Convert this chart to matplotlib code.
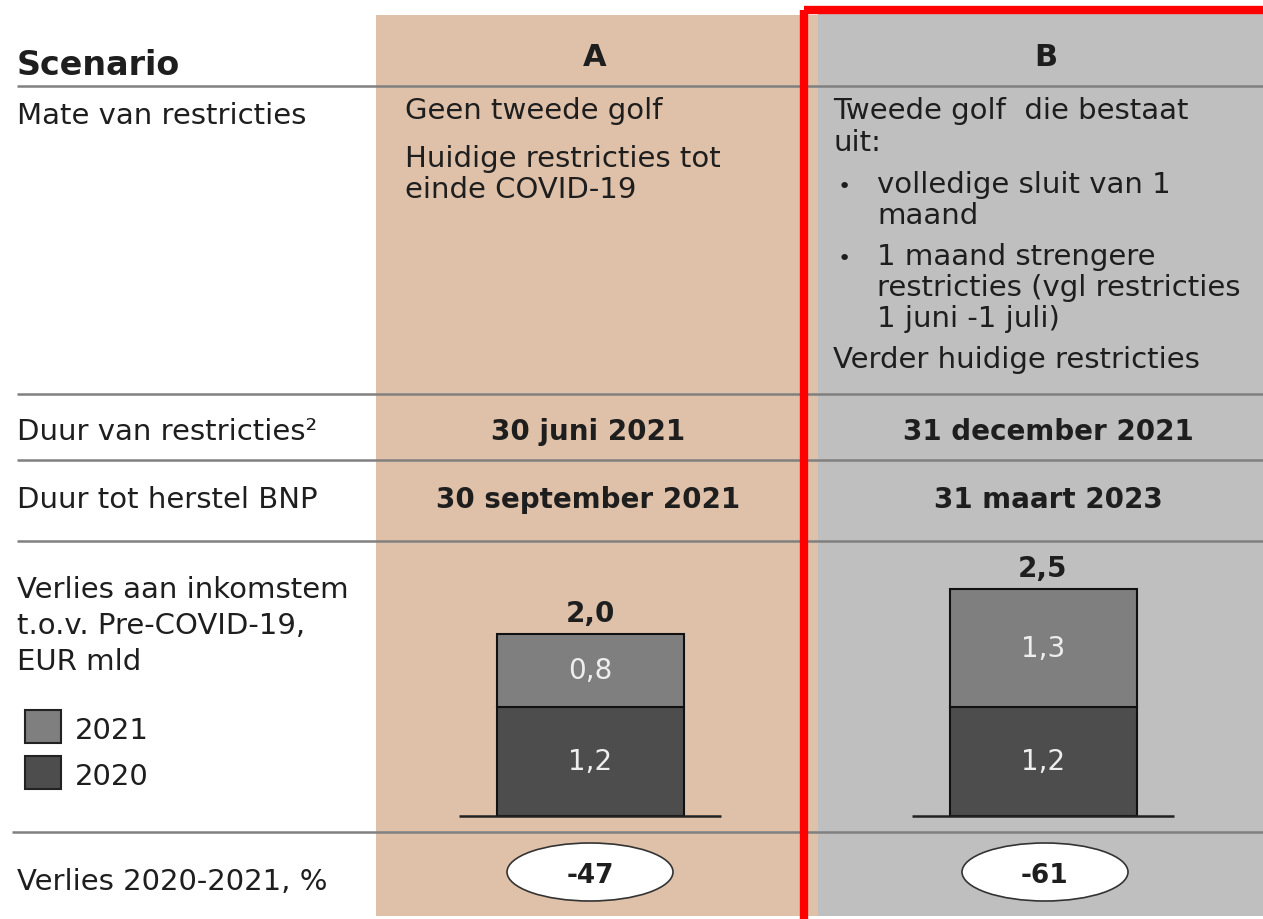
import matplotlib.pyplot as plt
from matplotlib.patches import Rectangle, Ellipse

# ---------------------------------------------------------------------------
# Data
# ---------------------------------------------------------------------------
scenarios = ["A", "B"]
loss_2020 = [1.2, 1.2]
loss_2021 = [0.8, 1.3]
loss_total = ["2,0", "2,5"]
loss_pct = ["-47", "-61"]
duur_restricties = ["30 juni 2021", "31 december 2021"]
duur_herstel = ["30 september 2021", "31 maart 2023"]
series_labels = ["2021", "2020"]

row_labels = ["Mate van restricties", "Duur van restricties\u00b2", "Duur tot herstel BNP",
              ["Verlies aan inkomstem", "t.o.v. Pre-COVID-19,", "EUR mld"],
              "Verlies 2020-2021, %"]

# ---------------------------------------------------------------------------
# Style
# ---------------------------------------------------------------------------
TAN = "#DFC1A9"
GREY_BG = "#BFBFBF"
C2021 = "#7F7F7F"
C2020 = "#4D4D4D"
LINE = "#808080"
TXT = "#1E1E1E"

plt.rcParams["font.family"] = ["DejaVu Sans"]

fig = plt.figure(figsize=(12.63, 9.20), dpi=100)
ax = fig.add_axes([0, 0, 1, 1])
ax.set_xlim(0, 1263)
ax.set_ylim(920, 0)
ax.axis("off")


def line(x, y, s, **kw):
    kw.setdefault("fontsize", 21)
    kw.setdefault("color", TXT)
    return ax.text(x, y, s, va="baseline", **kw)


# column backgrounds
ax.add_patch(Rectangle((376, 16), 442, 901, facecolor=TAN, edgecolor="none", zorder=0))
ax.add_patch(Rectangle((818, 15), 460, 902, facecolor=GREY_BG, edgecolor="none", zorder=0))

# row separators
for y, x0 in [(87, 17), (395, 17), (461, 17), (542, 17), (833, 12)]:
    ax.plot([x0, 1263], [y, y], color=LINE, lw=1.8, zorder=1, solid_capstyle="butt")

# header
line(17, 75, "Scenario", fontsize=24, fontweight="bold")
for cx, s in zip([595, 1046], scenarios):
    line(cx, 66, s, fontsize=22, fontweight="bold", ha="center")

# left labels
line(17, 124, row_labels[0])
line(17, 440, row_labels[1])
line(17, 508, row_labels[2])
for y, s in zip([598, 634, 670], row_labels[3]):
    line(17, y, s)
line(17, 890, row_labels[4])

# scenario A description
line(405, 119, "Geen tweede golf")
line(405, 167, "Huidige restricties tot")
line(405, 198, "einde COVID-19")

# scenario B description
line(833, 119, "Tweede golf  die bestaat")
line(833, 151, "uit:")
line(838, 193, "\u2022", fontsize=16)
line(877, 193, "volledige sluit van 1")
line(877, 224, "maand")
line(838, 265, "\u2022", fontsize=16)
line(877, 265, "1 maand strengere")
line(877, 296, "restricties (vgl restricties")
line(877, 327, "1 juni -1 juli)")
line(833, 368, "Verder huidige restricties")

# dates
for cx, d1, d2 in zip([588, 1048], duur_restricties, duur_herstel):
    line(cx, 440, d1, fontsize=20, fontweight="bold", ha="center")
    line(cx, 508, d2, fontsize=20, fontweight="bold", ha="center")

# percentage ellipses
for cx, p in zip([590, 1045], loss_pct):
    ax.add_patch(Ellipse((cx, 873), 166, 58, facecolor="white", edgecolor="#333333", lw=1.2, zorder=3))
    line(cx, 883, p, fontsize=19, fontweight="bold", ha="center", zorder=4)

# legend squares
for yb, c, lab in [(739, C2021, series_labels[0]), (785, C2020, series_labels[1])]:
    ax.add_patch(Rectangle((25, yb - 28), 36, 33, facecolor=c, edgecolor="#222222", lw=1.5))
    line(75, yb, lab)

# red highlight frame around scenario B
ax.add_patch(Rectangle((804, 10.5), 600, 1000, fill=False, edgecolor="#FF0000", lw=6, zorder=5))

# ---------------------------------------------------------------------------
# Stacked bars (own axes; 0 at y=817px, ~91 px per EUR mld)
# ---------------------------------------------------------------------------
W, H = 1263, 920
px_per_unit = 91
y0_px = 817
ymax = 3.0
bax = fig.add_axes([376 / W, (H - y0_px) / H, (W - 376) / W, ymax * px_per_unit / H])
bax.set_ylim(0, ymax)
# map category 0 -> x=590px, 1 -> x=1043px
unit = 1043 - 590
bax.set_xlim((376 - 590) / unit, (W - 590) / unit)
bax.axis("off")
bax.patch.set_alpha(0)

pos = list(range(len(scenarios)))
bw = 187 / unit
bax.bar(pos, loss_2020, width=bw, color=C2020, edgecolor="#111111", lw=1.5, zorder=2)
bax.bar(pos, loss_2021, width=bw, bottom=loss_2020, color=C2021, edgecolor="#111111", lw=1.5, zorder=2)
for p in pos:
    bax.plot([p - 0.29, p + 0.29], [0, 0], color="#222222", lw=1.8, zorder=3,
             solid_capstyle="butt", clip_on=False)

for p, a, b, t in zip(pos, loss_2020, loss_2021, loss_total):
    bax.text(p, a / 2, f"{a:.1f}".replace(".", ","), color="#EEEEEE", fontsize=20,
             ha="center", va="center", zorder=4)
    bax.text(p, a + b / 2, f"{b:.1f}".replace(".", ","), color="#EEEEEE", fontsize=20,
             ha="center", va="center", zorder=4)
    bax.text(p, a + b + 0.14, t, color=TXT, fontsize=20, fontweight="bold",
             ha="center", va="baseline", zorder=4)

fig.savefig("out.png", dpi=100)
